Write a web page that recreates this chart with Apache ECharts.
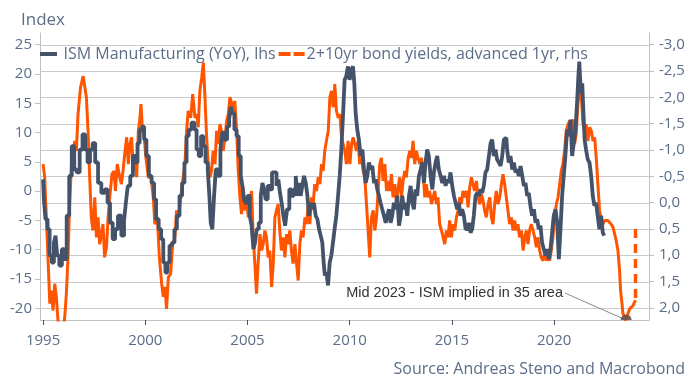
<!DOCTYPE html>
<html><head><meta charset="utf-8">
<script src="https://cdn.jsdelivr.net/npm/echarts@6/dist/echarts.min.js"></script>
<style>html,body{margin:0;padding:0;background:#fff}#c{width:691px;height:389px}</style>
</head><body><div id="c"></div>
<script>
// ISM Manufacturing (YoY), lhs
const ismYears = [1995.00,1995.08,1995.16,1995.28,1995.36,1995.49,1995.57,1995.65,1995.73,1995.86,1995.98,1996.09,1996.22,1996.34,1996.47,1996.58,1996.71,1996.87,1996.99,1997.12,1997.23,1997.36,1997.49,1997.61,1997.77,1997.93,1998.10,1998.21,1998.34,1998.47,1998.58,1998.75,1998.91,
1999.01,1999.09,1999.20,1999.33,1999.46,1999.58,1999.66,1999.79,1999.90,1999.99,2000.12,2000.23,2000.39,2000.47,2000.59,2000.72,2000.83,2000.93,2001.04,2001.13,2001.24,2001.37,2001.48,2001.61,2001.74,2001.86,2001.97,2002.07,2002.18,2002.35,2002.46,2002.56,2002.67,2002.79,2002.89,2003.00,2003.11,
2003.16,2003.24,2003.32,2003.41,2003.49,2003.62,2003.73,2003.81,2003.94,2004.06,2004.14,2004.22,2004.30,2004.42,2004.51,2004.63,2004.71,2004.79,2004.87,2004.95,2005.07,2005.15,2005.25,2005.33,2005.41,2005.49,2005.61,2005.69,2005.77,2005.85,2005.93,2006.05,2006.14,2006.26,2006.37,2006.47,2006.55,2006.63,2006.71,2006.80,2006.88,2006.99,2007.10,2007.20,
2007.32,2007.40,2007.48,2007.56,2007.64,2007.72,2007.81,2007.89,2007.97,2008.05,2008.13,2008.21,2008.29,2008.38,2008.46,2008.54,2008.62,2008.70,2008.75,2008.82,2008.90,2008.98,2009.06,2009.14,2009.22,2009.30,2009.39,2009.47,2009.55,2009.63,2009.71,2009.79,2009.87,2009.96,2010.04,2010.12,2010.20,2010.25,2010.33,2010.41,2010.49,2010.58,2010.66,2010.74,2010.82,2010.90,2010.98,2011.06,2011.15,2011.23,2011.31,2011.39,
2011.47,2011.55,2011.63,2011.72,2011.80,2011.88,2011.96,2012.04,2012.12,2012.20,2012.29,2012.37,2012.45,2012.53,2012.61,2012.69,2012.77,2012.86,2012.94,2013.02,2013.10,2013.18,2013.26,2013.34,2013.43,2013.51,2013.59,2013.67,2013.75,2013.83,2013.91,2014.00,2014.08,2014.16,2014.24,2014.32,2014.40,2014.49,2014.57,2014.65,2014.73,2014.81,2014.89,2014.97,2015.06,2015.14,2015.22,2015.30,2015.38,2015.46,2015.54,
2015.63,2015.71,2015.79,2015.87,2015.95,2016.03,2016.11,2016.20,2016.28,2016.36,2016.44,2016.52,2016.60,2016.68,2016.77,2016.85,2016.93,2017.01,2017.09,2017.17,2017.25,2017.34,2017.42,2017.50,2017.58,2017.66,2017.74,2017.82,2017.91,2017.99,2018.07,2018.15,2018.23,2018.31,2018.40,2018.48,2018.56,2018.64,2018.72,2018.80,2018.88,2018.97,2019.05,2019.13,2019.21,2019.29,2019.37,2019.45,2019.54,2019.62,2019.70,
2019.78,2019.86,2019.94,2020.02,2020.11,2020.19,2020.27,2020.35,2020.43,2020.51,2020.59,2020.68,2020.76,2020.84,2020.92,2021.00,2021.08,2021.16,2021.21,2021.25,2021.30,2021.34,2021.41,2021.46,2021.52,2021.60,2021.69,2021.77,2021.85,2021.93,2022.01,2022.09,2022.17,2022.26,2022.34,2022.42,2022.48];
const ismValues = [2.0,-1.4,-4.8,-6.5,-11,-12.2,-8.8,-7.6,-11,-12.7,-9.9,-11.6,-4.2,2.6,7.7,3.7,3.2,7.1,9.7,7.1,4.9,7.1,8.2,4.9,1.4,-0.3,0.3,-2,-5.4,-8.2,-6.5,-4.2,-7.6,
-5,-2,0.9,2.6,6,4.9,8.2,10.5,11,8.8,6,2.6,1.4,-1.4,-4.8,-6.5,-8.2,-12.2,-13.9,-12.2,-9.3,-8.8,-6.5,-4.2,-0.8,1.4,4.9,9.4,10.5,11.7,10.5,7.1,6,9.4,7.7,4.9,3.7,
-0.8,-5.4,-6.5,-0.8,3.7,2.6,7.1,10,8.8,11,12.2,14.4,13.3,10.5,9.4,6,2.6,0.9,-1.4,-2,-0.8,-4.2,-5.9,-9.9,-8.8,-6.5,-5.4,-0.8,1.4,0.3,-1.4,0.9,0.3,3.2,3.2,0.9,2.0,-0.3,-2,-4.2,-5.9,-3.1,0.3,-0.8,
0.3,2.6,-0.8,1.4,-0.8,0.9,2.6,1.4,-0.8,-4.2,-2,-3.1,-2,-4.2,-4.8,-6.5,-7.6,-8.8,-12.2,-14.4,-13.9,-16.1,-12.2,-11,-8.8,-6.5,-4.2,-0.8,2.6,7.1,12.8,19,19.6,21.3,19,20.8,21.3,18.4,13.3,10.5,8.8,6,7.1,3.7,1.4,2.6,4.9,3.7,4.3,1.4,2,0.3,
-0.8,-2,-3.1,-4.2,-5.4,-4.2,-3.1,-5.4,-4.2,-2,-3.1,-0.8,-5.9,-4.2,-0.8,-3.1,-2,-4.2,-0.8,0.9,-2,-3.1,0.3,-0.8,2.6,3.7,4.9,1.4,4.9,7.1,6,2.6,0.3,3.2,4.9,6,3.7,2.6,1.4,2.6,0.9,2,1.4,3.2,0.9,-0.8,-2,-3.1,-2,-4.2,-3.1,
-4.2,-6.5,-6.5,-5.4,-7.1,-6.5,-4.2,-0.8,-0.3,-0.8,0.3,-0.3,0.9,3.2,3.7,6,8.2,8.8,6,7.1,5.4,4.9,4.3,6,8.8,9.1,7.1,4.9,6,3.7,4.9,3.2,3.7,2.6,4.3,2.6,0.9,1.4,-0.8,-0.3,-2.5,-4.2,-3.1,-5.4,-4.8,-6.5,-5.9,-8.8,-9.9,-11,-9.9,
-11.6,-9.9,-7.1,-4.2,-3.1,-5.4,-11.6,-6.5,-0.8,2.6,6,10.5,9.4,12.2,6,8.2,10.5,15,19.6,22.1,19,16.7,18.4,13.3,8.8,7.1,5.4,4.9,2.6,-0.8,-2.5,-2,-4.2,-6.5,-4.2,-7.1,-7.6];

// 2+10yr bond yields, advanced 1yr, rhs (inverted axis)
const bondYears = [1995.00,1995.08,1995.16,1995.24,1995.33,1995.41,1995.49,1995.57,1995.65,1995.73,1995.81,1995.90,1995.98,1996.06,1996.14,1996.22,1996.30,1996.39,1996.55,1996.63,1996.71,1996.83,1996.96,1997.04,1997.12,1997.20,1997.28,1997.36,1997.44,1997.53,1997.61,1997.69,1997.77,1997.93,1998.01,1998.10,1998.18,1998.26,1998.37,1998.47,1998.54,1998.63,1998.75,1998.83,1998.91,
1999.01,1999.09,1999.17,1999.25,1999.33,1999.42,1999.50,1999.58,1999.66,1999.74,1999.79,1999.86,1999.95,2000.03,2000.15,2000.28,2000.39,2000.47,2000.59,2000.69,2000.80,2000.88,2000.96,2001.04,2001.13,2001.24,2001.34,2001.45,2001.53,2001.61,2001.70,2001.81,2001.94,2002.02,2002.10,2002.22,2002.32,2002.43,2002.51,2002.59,2002.67,2002.76,2002.84,2002.92,2003.00,2003.08,
2003.16,2003.24,2003.32,2003.41,2003.49,2003.57,2003.65,2003.73,2003.81,2003.90,2003.98,2004.06,2004.14,2004.22,2004.30,2004.38,2004.47,2004.55,2004.63,2004.71,2004.79,2004.87,2004.95,2005.04,2005.12,2005.20,2005.28,2005.36,2005.44,2005.52,2005.61,2005.69,2005.77,2005.85,2005.93,2006.01,2006.09,2006.18,2006.26,2006.34,2006.42,2006.50,2006.58,2006.66,2006.75,2006.83,2006.91,2006.99,2007.07,2007.15,2007.23,
2007.32,2007.40,2007.48,2007.56,2007.64,2007.72,2007.81,2007.89,2007.97,2008.05,2008.13,2008.21,2008.29,2008.38,2008.46,2008.54,2008.62,2008.70,2008.78,2008.86,2008.95,2009.03,2009.11,2009.19,2009.27,2009.35,2009.44,2009.52,2009.60,2009.68,2009.76,2009.84,2009.92,2010.01,2010.09,2010.17,2010.25,2010.33,2010.41,2010.49,2010.58,2010.66,2010.74,2010.82,2010.90,2010.98,2011.06,2011.15,2011.23,2011.31,2011.39,
2011.47,2011.55,2011.63,2011.72,2011.80,2011.88,2011.96,2012.04,2012.12,2012.20,2012.29,2012.37,2012.45,2012.53,2012.61,2012.69,2012.77,2012.86,2012.94,2013.02,2013.10,2013.18,2013.26,2013.34,2013.43,2013.51,2013.59,2013.67,2013.75,2013.83,2013.91,2014.00,2014.08,2014.16,2014.24,2014.32,2014.40,2014.49,2014.57,2014.65,2014.73,2014.81,2014.89,2014.97,2015.06,2015.14,2015.22,2015.30,2015.38,2015.46,2015.54,
2015.63,2015.71,2015.79,2015.87,2015.95,2016.03,2016.11,2016.20,2016.28,2016.36,2016.44,2016.52,2016.60,2016.68,2016.77,2016.85,2016.93,2017.01,2017.09,2017.17,2017.25,2017.34,2017.42,2017.50,2017.58,2017.66,2017.74,2017.82,2017.91,2017.99,2018.07,2018.15,2018.23,2018.31,2018.40,2018.48,2018.56,2018.64,2018.72,2018.80,2018.88,2018.97,2019.05,2019.13,2019.21,2019.29,2019.37,2019.45,2019.54,2019.62,2019.70,
2019.78,2019.86,2019.94,2020.02,2020.11,2020.19,2020.27,2020.35,2020.43,2020.51,2020.59,2020.68,2020.76,2020.84,2020.92,2021.00,2021.08,2021.16,2021.25,2021.33,2021.41,2021.49,2021.57,2021.65,2021.74,2021.82,2021.90,2021.98,2022.06,2022.14,2022.22,2022.31,2022.39,2022.47,2022.55,2022.63,2022.71,2022.79,2022.88,2022.96,2023.04,2023.12,2023.20,2023.25,2023.32,2023.36,2023.45,2023.49,2023.56,2023.62,2023.69,2023.77,2023.85,2023.93,2024.00];
const bondValues = [-0.73,-0.48,0.28,1.04,1.92,1.67,2.05,1.54,1.79,2.24,2.4,2.4,2.4,2.17,1.73,1.04,0.03,-0.73,-1.17,-0.98,-1.68,-2.18,-2.40,-2.37,-2.0,-1.36,-0.48,0.28,0.53,-0.1,0.66,0.28,0.79,0.41,1.04,0.85,0.28,-0.1,-0.54,-0.6,-0.22,-0.73,-0.48,-0.35,-0.6,
-0.98,-1.24,-0.73,-1.11,-1.24,-0.6,-0.85,-0.48,-1.36,-1.61,-1.87,-1.36,-1.24,-0.85,-0.48,-0.48,-0.1,0.41,0.28,1.04,1.54,1.79,1.6,2.02,1.42,1.35,0.79,0.66,0.15,0.28,0.03,-0.35,-0.73,-1.36,-1.74,-1.61,-2.06,-1.61,-1.68,-1.43,-2.12,-2.37,-2.66,-2.0,-1.24,-0.73,
-0.48,-0.6,-0.98,-0.73,-1.36,-1.11,-1.49,-1.36,-0.98,-1.24,-1.55,-1.68,-2.0,-1.9,-1.74,-1.93,-1.36,-0.6,-0.1,0.22,-0.29,0.15,-0.1,0.28,-0.04,-0.22,0.66,1.16,1.73,1.16,0.6,0.91,0.79,0.53,0.66,1.04,0.91,1.6,1.16,0.28,0.15,0.03,0.53,0.91,0.66,1.04,0.6,0.79,0.53,0.91,1.16,
0.79,1.16,1.48,0.79,0.53,0.66,0.28,0.41,0.03,0.41,-0.1,0.03,-0.35,-0.22,-0.48,-0.35,-0.73,-0.6,-0.98,-1.17,-1.36,-2.0,-2.12,-1.81,-2.25,-1.74,-1.61,-1.68,-1.24,-1.11,-0.98,-0.73,-1.17,-0.73,-1.11,-1.24,-1.11,-0.98,-1.17,-0.73,-0.85,-0.6,-0.48,0.03,0.53,1.04,0.28,0.15,0.53,0.28,-0.22,
-0.73,-0.85,-0.41,-0.73,-0.22,-0.41,-0.22,-0.54,-0.1,-0.35,0.03,-0.29,-0.48,-0.1,-0.41,-0.6,-0.48,-0.85,-0.98,-0.85,-1.17,-0.73,-0.98,-0.85,-0.73,-0.85,-0.6,-0.1,-0.35,-0.1,-0.22,0.03,-0.1,-0.22,0.03,-0.1,0.41,0.53,0.66,0.79,0.53,0.66,0.34,0.66,0.41,0.53,0.28,0.15,-0.1,0.03,-0.22,
-0.1,-0.22,0.09,-0.29,-0.48,-0.35,-0.22,-0.41,-0.1,0.03,-0.16,-0.04,0.15,0.28,0.03,-0.1,0.28,0.41,0.03,-0.22,0.03,-0.1,-0.35,-0.54,-0.35,-0.1,0.15,0.41,0.28,0.53,0.34,0.53,0.41,0.66,0.53,0.91,0.66,0.53,0.79,0.53,0.41,0.53,0.66,0.85,0.66,0.91,1.04,1.1,0.98,1.1,1.04,
1.1,0.91,0.66,0.28,0.03,-0.1,-0.35,-0.6,-0.73,-0.98,-1.36,-1.49,-1.55,-1.43,-1.58,-1.11,-1.3,-1.87,-2.18,-2.0,-1.49,-1.36,-1.49,-1.17,-1.43,-1.36,-1.17,-1.24,-0.85,-0.35,0.15,0.34,0.41,0.34,0.31,0.34,0.34,0.41,0.47,0.6,0.73,0.91,1.29,1.67,1.92,2.1,2.17,2.24,2.17,2.1,2.02,2.05,1.96,1.89,1.86];

// dashed projection (rhs)
const projYears = [2023.98, 2023.98];
const projValues = [0.5, 1.9];

// annotation (lhs)
const noteText = 'Mid 2023 - ISM implied in 35 area';
const noteYears = [2020.53, 2023.52];
const noteValues = [-17.4, -22];

const leftTicks = [-20,-15,-10,-5,0,5,10,15,20,25];
const rightTicks = [-3,-2.5,-2,-1.5,-1,-0.5,0,0.5,1,1.5,2];
const xTicks = [1995,2000,2005,2010,2015,2020];
const xRange = [1994.85, 2024.64];

const zip = (a,b) => a.map((v,i)=>[v,b[i]]);
const txt = '#5b6d88';
const font = 'Open Sans';
const ORANGE = '#ff5500', GRAY = '#44536a';
const GRID = '#cbcbcb', AXIS = '#c0c0c0';

const sourceText = {type:'text', id:'src', right:6, top:361, style:{text:'Source: Andreas Steno and Macrobond', fontSize:16, fill:txt, fontFamily:font}};

const chart = echarts.init(document.getElementById('c'), null, {renderer:'canvas'});
chart.setOption({
  animation:false,
  textStyle:{fontFamily:font},
  title:{text:'Index', left:16, top:7, textStyle:{fontSize:17, fontWeight:'normal', color:txt, fontFamily:font}},
  graphic:[sourceText],
  legend:{left:35, top:41, itemGap:3, itemWidth:26, itemHeight:4, symbolKeepAspect:true,
    textStyle:{fontSize:16, color:txt, fontFamily:font, padding:[0,0,0,-3]},
    data:[{name:'ISM Manufacturing (YoY), lhs', icon:'path://M0,0H17V4H0Z', itemStyle:{color:GRAY}},
          {name:'2+10yr bond yields, advanced 1yr, rhs', icon:'path://M0,0H12V4H0Z M15,0H26V4H15Z', itemStyle:{color:ORANGE}}]},
  grid:{left:40, right:42, top:33, bottom:69},
  xAxis:{type:'value', min:xRange[0], max:xRange[1],
    axisLine:{show:true, onZero:false, lineStyle:{color:AXIS, width:1}},
    axisTick:{show:true, customValues:xTicks, length:5, lineStyle:{color:'#44536a', width:1}},
    axisLabel:{customValues:xTicks, fontSize:15, color:txt, margin:13, fontFamily:font, formatter:v=>String(v)},
    splitLine:{show:false}},
  yAxis:[
    {type:'value', min:-22, max:27, position:'left',
      axisLine:{show:true, onZero:false, lineStyle:{color:AXIS, width:1}},
      axisTick:{show:true, customValues:leftTicks, length:5, lineStyle:{color:AXIS}},
      axisLabel:{customValues:leftTicks, fontSize:15, color:txt, margin:8, fontFamily:font},
      splitLine:{show:false}},
    {type:'value', min:-3.22, max:2.23, inverse:true, position:'right',
      axisLine:{show:true, onZero:false, lineStyle:{color:AXIS, width:1}},
      axisTick:{show:true, customValues:rightTicks, length:5, lineStyle:{color:AXIS}},
      axisLabel:{customValues:rightTicks, fontSize:15, color:txt, margin:10, fontFamily:font,
        formatter:v=>v.toFixed(1).replace('.',',')},
      splitLine:{show:false}}
  ],
  series:[
    {name:'2+10yr bond yields, advanced 1yr, rhs', type:'line', yAxisIndex:1, data:zip(bondYears,bondValues),
      showSymbol:false, symbol:'none', lineStyle:{color:ORANGE, width:3}, itemStyle:{color:ORANGE}, z:2},
    {name:'2+10yr bond yields, advanced 1yr, rhs', type:'line', yAxisIndex:1, data:zip(projYears,projValues),
      showSymbol:false, symbol:'none', lineStyle:{color:ORANGE, width:3.5, type:[9,6]}, itemStyle:{color:ORANGE}, z:2},
    {name:'ISM Manufacturing (YoY), lhs', type:'line', yAxisIndex:0, step:'middle', data:zip(ismYears,ismValues),
      showSymbol:false, symbol:'none', lineStyle:{color:GRAY, width:3.8}, itemStyle:{color:GRAY}, z:3},
    {type:'line', yAxisIndex:0, data:zip(noteYears,noteValues), symbol:'none', silent:true,
      lineStyle:{color:'#8a8a8a', width:1}, z:4,
      markPoint:{symbol:'circle', symbolSize:0, data:[{coord:[noteYears[0],noteValues[0]], label:{show:true, position:'left', distance:2, formatter:noteText, fontFamily:'Liberation Sans', fontSize:14.5, color:'#333'}}]}},
    {type:'scatter', yAxisIndex:0, data:[[noteYears[1],noteValues[1]]], symbol:'path://M0,1 A1,1 0 0,1 2,1 Z',
      symbolSize:[11,5.5], symbolOffset:[0,-2.75], itemStyle:{color:'#6a5350', opacity:0.9}, z:5, silent:true}
  ]
});

// gridlines at the right-axis tick values, positioned through the axis scale
const xl = chart.convertToPixel({xAxisIndex:0}, xRange[0]);
const xr = chart.convertToPixel({xAxisIndex:0}, xRange[1]);
const gridLines = rightTicks.map(v => {
  const y = Math.round(chart.convertToPixel({yAxisIndex:1}, v)) + 0.5;
  return {type:'line', silent:true, z:1, zlevel:0, shape:{x1:xl, y1:y, x2:xr, y2:y}, style:{stroke:GRID, lineWidth:1}};
});
chart.setOption({graphic:[sourceText].concat(gridLines)});
</script></body></html>
